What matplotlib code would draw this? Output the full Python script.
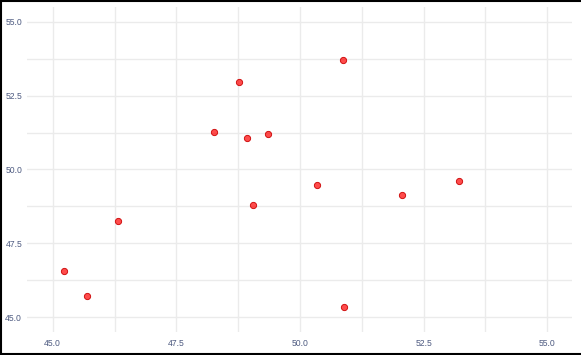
import matplotlib
matplotlib.use("Agg")
import matplotlib.pyplot as plt
from matplotlib.lines import Line2D

x_vals = [45.23, 45.69, 46.32, 48.27, 48.77, 48.93, 49.04, 49.36, 50.87, 50.35, 50.89, 52.06, 53.21]
y_vals = [46.58, 45.73, 48.26, 51.27, 52.97, 51.07, 48.80, 51.20, 53.71, 49.48, 45.36, 49.14, 49.61]
ticks = [45.0, 47.5, 50.0, 52.5, 55.0]
minor_ticks = [46.25, 48.75, 51.25, 53.75]

plt.rcParams["font.family"] = ["Liberation Sans", "DejaVu Sans"]

fig = plt.figure(figsize=(5.81, 3.55), dpi=100)
ax = fig.add_axes([0.0465, 0.0648, 0.938, 0.9155])

ax.scatter(x_vals, y_vals, s=20, facecolor=(1, 0, 0, 0.7), edgecolor="#d01010", linewidth=0.7, zorder=3)

ax.set_xlim(44.48, 55.5)
ax.set_ylim(44.5, 55.5)
ax.set_xticks(ticks)
ax.set_yticks(ticks)
ax.set_xticks(minor_ticks, minor=True)
ax.set_yticks(minor_ticks, minor=True)
ax.set_xticklabels([f"{t:.1f}" for t in ticks])
ax.set_yticklabels([f"{t:.1f}" for t in ticks])
ax.grid(True, which="both", color="#ebebeb", linewidth=1.0, zorder=0)
ax.set_axisbelow(True)
ax.tick_params(which="both", length=0, labelsize=6.2, labelcolor="#4d5a80")
ax.tick_params(axis="x", pad=5)
ax.tick_params(axis="y", pad=3.5)
for s in ax.spines.values():
    s.set_visible(False)

# black frame around the figure (top, left, bottom)
fig.add_artist(Line2D([0.001, 0.001], [0, 1], transform=fig.transFigure, color="black", linewidth=1.5))
fig.add_artist(Line2D([0, 1], [0.998, 0.998], transform=fig.transFigure, color="black", linewidth=1.5))
fig.add_artist(Line2D([0, 1], [0.004, 0.004], transform=fig.transFigure, color="black", linewidth=1.5))

fig.savefig("out.png", dpi=100)
